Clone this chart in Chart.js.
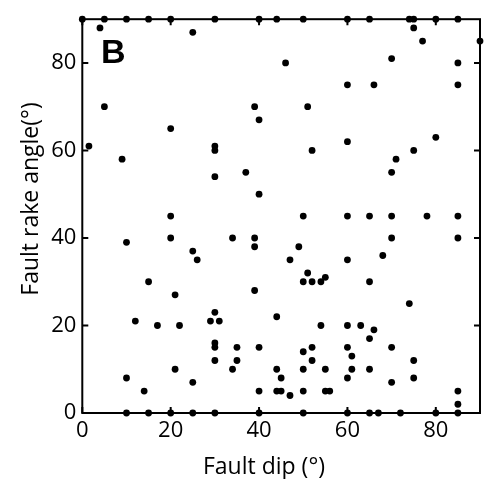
<!DOCTYPE html>
<html>
<head>
<meta charset="utf-8">
<script src="https://cdn.jsdelivr.net/npm/chart.js@4"></script>
<style>
html,body{margin:0;padding:0;background:#fff;}
canvas{display:block;}
</style>
</head>
<body>
<canvas id="c" width="490" height="479"></canvas>
<script>
// Fault dip (x, degrees) and fault rake angle (y, degrees)
const dip = [
  0, 5, 10, 15, 20, 30, 40, 44, 50, 60, 65, 74, 75, 80, 85,
  4, 25, 75, 77, 90,
  46, 70, 85,
  60, 66, 85,
  5, 39, 51,
  40, 20,
  80, 60,
  1.5, 30, 30, 52, 75,
  9, 71,
  37, 70, 30,
  40,
  20, 50, 60, 65, 70, 78, 85,
  20, 34, 39, 70, 85,
  10, 39, 49,
  25, 68,
  26, 47, 60,
  51, 55,
  15, 50, 52, 54, 65,
  39, 21, 74,
  30, 44,
  12, 29, 31,
  17, 22, 54, 60, 63,
  66, 65,
  30, 30, 35, 40, 52, 60, 70,
  50, 61,
  30, 35, 52, 75,
  21, 34, 44, 50, 55, 61, 65,
  10, 45, 60, 75,
  25, 70,
  14, 40, 44, 45, 50, 55, 56, 85,
  47, 85,
  10, 15, 20, 25, 30, 40, 50, 60, 65, 67, 72, 80, 85
];
const rake = [
  90, 90, 90, 90, 90, 90, 90, 90, 90, 90, 90, 90, 90, 90, 90,
  88, 87, 88, 85, 85,
  80, 81, 80,
  75, 75, 75,
  70, 70, 70,
  67, 65,
  63, 62,
  61, 61, 60, 60, 60,
  58, 58,
  55, 55, 54,
  50,
  45, 45, 45, 45, 45, 45, 45,
  40, 40, 40, 40, 40,
  39, 38, 38,
  37, 36,
  35, 35, 35,
  32, 31,
  30, 30, 30, 30, 30,
  28, 27, 25,
  23, 22,
  21, 21, 21,
  20, 20, 20, 20, 20,
  19, 17,
  16, 15, 15, 15, 15, 15, 15,
  14, 13,
  12, 12, 12, 12,
  10, 10, 10, 10, 10, 10, 10,
  8, 8, 8, 8,
  7, 7,
  5, 5, 5, 5, 5, 5, 5, 5,
  4, 2,
  0, 0, 0, 0, 0, 0, 0, 0, 0, 0, 0, 0, 0
];
const xTickValues = [0, 20, 40, 60, 80];
const yTickValues = [0, 20, 40, 60, 80];
const xTitle = 'Fault dip (°)';
const yTitle = 'Fault rake angle(°)';
const panelLabel = 'B';

const points = dip.map((d, i) => ({x: d, y: rake[i]}));

const framePlugin = {
  id: 'frame',
  beforeDatasetsDraw(chart) {
    const {ctx, chartArea: a, scales: {x, y}} = chart;
    ctx.save();
    ctx.strokeStyle = '#000';
    ctx.lineWidth = 2;
    ctx.strokeRect(a.left, a.top, a.right - a.left, a.bottom - a.top);
    const L = 6;
    ctx.beginPath();
    x.ticks.forEach(t => {
      const p = x.getPixelForValue(t.value);
      ctx.moveTo(p, a.bottom); ctx.lineTo(p, a.bottom - L);
      ctx.moveTo(p, a.top); ctx.lineTo(p, a.top + L);
    });
    y.ticks.forEach(t => {
      const p = y.getPixelForValue(t.value);
      ctx.moveTo(a.left, p); ctx.lineTo(a.left + L, p);
      ctx.moveTo(a.right, p); ctx.lineTo(a.right - L, p);
    });
    ctx.stroke();
    ctx.restore();
  },
  afterDraw(chart) {
    const {ctx} = chart;
    ctx.save();
    ctx.fillStyle = '#000';
    ctx.font = '23px "Open Sans"';
    ctx.textAlign = 'center';
    ctx.textBaseline = 'alphabetic';
    ctx.fillText(xTitle, 264, 473.5);
    ctx.save();
    ctx.translate(38, 199);
    ctx.rotate(-Math.PI / 2);
    ctx.fillText(yTitle, 0, 0);
    ctx.restore();
    ctx.font = 'bold 34px "Liberation Sans"';
    ctx.textAlign = 'left';
    ctx.fillText(panelLabel, 101, 62.7);
    ctx.restore();
  }
};

new Chart(document.getElementById('c'), {
  type: 'scatter',
  data: {
    datasets: [{
      data: points,
      pointRadius: 3.4,
      pointHoverRadius: 3.4,
      pointBackgroundColor: '#000',
      pointBorderWidth: 0,
      clip: false
    }]
  },
  options: {
    responsive: false,
    animation: false,
    layout: {padding: {top: 14, right: 10, left: 0, bottom: 0}},
    plugins: {legend: {display: false}, tooltip: {enabled: false}},
    scales: {
      x: {
        type: 'linear',
        min: 0, max: 90,
        afterFit(s) { s.height = 66; },
        afterBuildTicks(s) { s.ticks = xTickValues.map(v => ({value: v})); },
        ticks: {color: '#000', font: {family: 'Open Sans', size: 22}, padding: 5, maxRotation: 0, includeBounds: false},
        grid: {display: true, drawOnChartArea: false, drawTicks: false},
        border: {display: false}
      },
      y: {
        type: 'linear',
        min: 0, max: 90,
        afterFit(s) { s.width = 82.3; },
        afterBuildTicks(s) { s.ticks = yTickValues.map(v => ({value: v})); },
        ticks: {color: '#000', font: {family: 'Open Sans', size: 22}, padding: 6, includeBounds: false},
        grid: {display: true, drawOnChartArea: false, drawTicks: false},
        border: {display: false}
      }
    }
  },
  plugins: [framePlugin]
});
</script>
</body>
</html>
